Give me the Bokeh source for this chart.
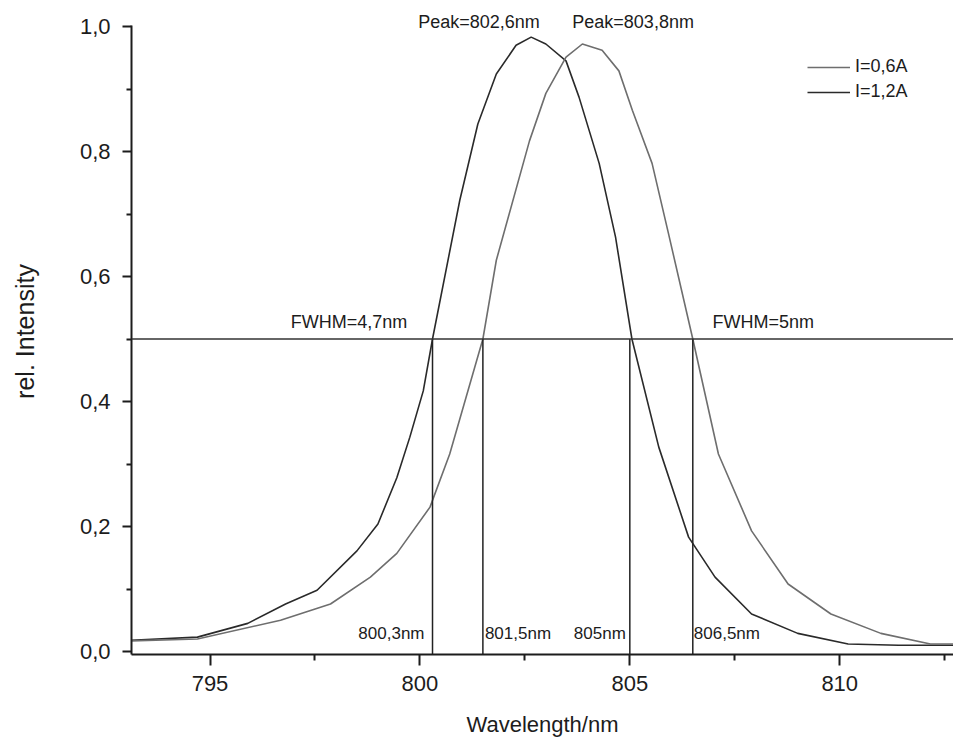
from bokeh.plotting import figure
from bokeh.models import (FixedTicker, Label, Legend, LegendItem, Span, Range1d,
                          CustomJSTickFormatter)
from bokeh.embed import file_html
from bokeh.resources import INLINE

# ---- data ----
# curve with peak at 802.6 nm (darker line, legend "I=1,2A")
wl_a = [793.1, 794.7, 795.9, 796.8, 797.55, 798.5, 799.0, 799.45, 799.76, 800.08,
        800.3, 800.95, 801.38, 801.82, 802.29, 802.65, 803.0, 803.48, 803.79, 804.27,
        804.66, 805.05, 805.69, 806.4, 807.03, 807.9, 809.0, 810.2, 811.4, 812.9]
int_a = [0.018, 0.023, 0.045, 0.076, 0.098, 0.161, 0.204, 0.278, 0.343, 0.417,
         0.5, 0.722, 0.844, 0.924, 0.970, 0.983, 0.972, 0.945, 0.887, 0.781,
         0.663, 0.5, 0.327, 0.183, 0.119, 0.060, 0.029, 0.012, 0.010, 0.010]

# curve with peak at 803.8 nm (lighter line, legend "I=0,6A")
wl_b = [793.1, 794.7, 796.68, 797.87, 798.82, 799.45, 800.24, 800.71, 801.5, 801.82,
        802.61, 803.0, 803.48, 803.87, 804.34, 804.74, 805.06, 805.53, 805.92, 806.5,
        807.11, 807.9, 808.77, 809.79, 810.98, 812.16, 812.9]
int_b = [0.017, 0.020, 0.050, 0.076, 0.119, 0.157, 0.231, 0.316, 0.5, 0.626,
         0.817, 0.893, 0.951, 0.972, 0.962, 0.929, 0.866, 0.781, 0.669, 0.5,
         0.316, 0.193, 0.108, 0.060, 0.029, 0.012, 0.012]

series_labels = ["I=0,6A", "I=1,2A"]
half_marks = [800.3, 801.5, 805.0, 806.5]
half_mark_labels = ["800,3nm", "801,5nm", "805nm", "806,5nm"]
half_level = 0.5
peak_labels = ["Peak=802,6nm", "Peak=803,8nm"]
fwhm_labels = ["FWHM=4,7nm", "FWHM=5nm"]

x_ticks = [795, 800, 805, 810]
x_minor = [797.5, 802.5, 807.5, 812.5]
y_ticks = [0.0, 0.2, 0.4, 0.6, 0.8, 1.0]
y_minor = [0.1, 0.3, 0.5, 0.7, 0.9]

FONT = "Liberation Sans"
INK = "#1c1c1c"

y_lo, y_hi = -0.0048, 1.0288
p = figure(width=953, height=745, output_backend="svg", toolbar_location=None,
           x_range=Range1d(793.13, 812.71), y_range=Range1d(y_lo, y_hi),
           min_border_left=131, min_border_right=0, min_border_top=8,
           min_border_bottom=91)
p.outline_line_color = None
p.xgrid.visible = False
p.ygrid.visible = False
p.background_fill_color = "white"
p.border_fill_color = "white"

# curves
r_a = p.line(wl_a, int_a, line_color="#2a2a2a", line_width=1.6)
r_b = p.line(wl_b, int_b, line_color="#6e6e6e", line_width=1.6)

# FWHM construction lines
p.add_layout(Span(location=half_level, dimension="width", line_color="#333333",
                  line_width=1.5))
p.segment(x0=half_marks, y0=[y_lo] * 4, x1=half_marks, y1=[half_level] * 4,
          line_color="#222222", line_width=1.5)

# axes
for ax in (p.xaxis[0], p.yaxis[0]):
    ax.axis_line_color = INK
    ax.axis_line_width = 2
    ax.major_tick_line_color = INK
    ax.minor_tick_line_color = INK
    ax.major_tick_line_width = 2
    ax.minor_tick_line_width = 2
    ax.major_tick_in = 0
    ax.minor_tick_in = 0
    ax.major_label_text_font = FONT
    ax.major_label_text_color = INK
    ax.axis_label_text_font = FONT
    ax.axis_label_text_font_style = "normal"
    ax.axis_label_text_color = INK

xa = p.xaxis[0]
xa.ticker = FixedTicker(ticks=x_ticks, minor_ticks=x_minor)
xa.major_tick_out = 11
xa.minor_tick_out = 6
xa.major_label_standoff = 10
xa.major_label_text_font_size = "22px"
xa.axis_label = "Wavelength/nm"
xa.axis_label_text_font_size = "22px"
xa.axis_label_standoff = 18

ya = p.yaxis[0]
ya.ticker = FixedTicker(ticks=y_ticks, minor_ticks=y_minor)
ya.formatter = CustomJSTickFormatter(code="return tick.toFixed(1).replace('.', ',');")
ya.bounds = (y_lo, 1.002)
ya.major_tick_out = 9
ya.minor_tick_out = 5
ya.major_label_standoff = 12
ya.major_label_text_font_size = "22px"
ya.axis_label = "rel. Intensity"
ya.axis_label_text_font_size = "25px"
ya.axis_label_standoff = 38

# annotations
def add_label(x, y, text, align="left", size="18px", x_off=0):
    p.add_layout(Label(x=x, y=y, text=text, text_font=FONT, text_font_size=size,
                       text_color=INK, text_align=align, text_baseline="middle",
                       x_offset=x_off))

add_label(799.96, 1.008, peak_labels[0])
add_label(803.63, 1.008, peak_labels[1])
add_label(799.70, 0.528, fwhm_labels[0], align="right")
add_label(806.97, 0.528, fwhm_labels[1])

label_y = 0.029
add_label(half_marks[0], label_y, half_mark_labels[0], align="right", size="17px", x_off=-8)
add_label(half_marks[1], label_y, half_mark_labels[1], align="left", size="17px", x_off=2)
add_label(half_marks[2], label_y, half_mark_labels[2], align="right", size="17px", x_off=-4)
add_label(half_marks[3], label_y, half_mark_labels[3], align="left", size="17px", x_off=1)

legend = Legend(items=[LegendItem(label=series_labels[0], renderers=[r_b]),
                       LegendItem(label=series_labels[1], renderers=[r_a])],
                location=(676, 552), glyph_width=43, glyph_height=18,
                label_height=18, label_text_font=FONT, label_text_font_size="18px",
                label_text_color=INK, spacing=4, padding=0, margin=0,
                label_standoff=5, border_line_color=None,
                background_fill_alpha=0)
p.add_layout(legend)

open("out.html", "w").write(file_html(p, INLINE))
